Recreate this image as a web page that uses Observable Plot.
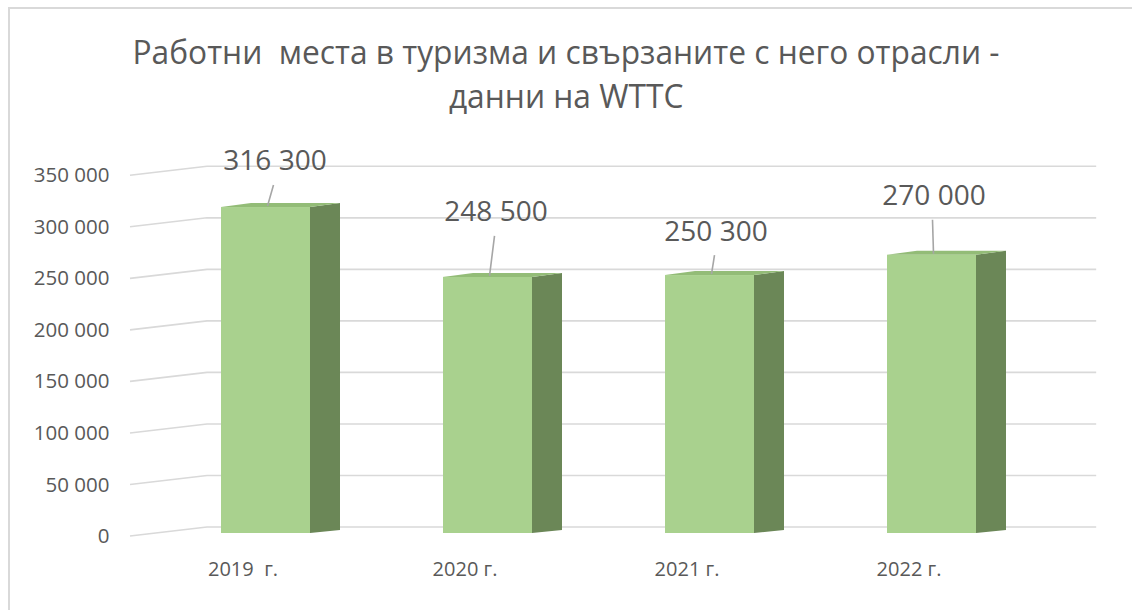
<!DOCTYPE html>
<html>
<head>
<meta charset="utf-8">
<script src="https://cdn.jsdelivr.net/npm/d3@7"></script>
<script src="https://cdn.jsdelivr.net/npm/@observablehq/plot@0.6"></script>
<style>
  html, body { margin: 0; padding: 0; background: #fff; }
  #wrap { position: relative; width: 1132px; height: 610px; overflow: hidden; font-family: "Open Sans", "Noto Sans", sans-serif; color: #595959; }
  #border { position: absolute; left: 8px; top: 7px; width: 1200px; height: 700px; border-left: 2px solid #d9d9d9; border-top: 2px solid #d9d9d9; pointer-events: none; }
  #title { height: 130px; box-sizing: border-box; padding-top: 29px; text-align: center; font-size: 33.6px; line-height: 44px; font-weight: 400; }
  #title div { white-space: nowrap; }
  #title span { display: inline-block; transform-origin: 50% 50%; white-space: pre; }
  #chart svg { display: block; }
</style>
</head>
<body>
<div id="wrap">
  <div id="title">
    <div><span id="t1">Работни  места в туризма и свързаните с него отрасли -</span></div>
    <div><span id="t2">данни на WTTC</span></div>
  </div>
  <div id="chart"></div>
  <div id="border"></div>
</div>
<script>
// ---- data ----
const years = ["2019", "2020", "2021", "2022"];
const yearLabels = ["2019 \u00a0г.", "2020 г.", "2021 г.", "2022 г."];
const jobs = [316300, 248500, 250300, 270000];
const valueLabels = ["316 300", "248 500", "250 300", "270 000"];
const yTicks = [0, 50000, 100000, 150000, 200000, 250000, 300000, 350000];
const yTickLabels = ["0", "50 000", "100 000", "150 000", "200 000", "250 000", "300 000", "350 000"];

const data = years.map((year, i) => ({year, value: jobs[i], text: valueLabels[i]}));

// ---- styling / layout ----
const FRONT = "#a9d18e", SIDE = "#6b8757", TOP = "#93bc77", GRID = "#d9d9d9", TEXT = "#595959", LEADER = "#a6a6a6";
const DEPTH_X = 30, DEPTH_Y = -4;
const labelLift = [46, 65, 44, 59];   // label centre above bar top (px)
const labelDx = [9, 8, 6, 2];         // label shift from bar face centre (px)

// fit the title to the reference width
const t1 = document.getElementById("t1"), t2 = document.getElementById("t2");
const k = 867 / t1.getBoundingClientRect().width;
t1.style.transform = `scaleX(${k})`;
t2.style.transform = `scaleX(${k})`;

const gridMark = Plot.ruleY(yTicks, {
  y: d => d,
  render(index, scales, values, dimensions) {
    const g = d3.create("svg:g");
    const L = dimensions.marginLeft;
    const R = dimensions.width - dimensions.marginRight;
    for (const i of index) {
      const yy = values.y ? values.y[i] : scales.y(yTicks[i]);
      const pts = [[L + 43.4, yy + 3], [L + 120.4, yy - 6], [R - 13, yy - 6]];
      g.append("path").attr("d", d3.line()(pts)).attr("fill", "none")
        .attr("stroke", GRID).attr("stroke-width", 1.6);
    }
    return g.node();
  }
});

const barMark = Plot.barY(data, {
  x: "year", y: "value", fill: FRONT,
  render(index, scales, values, dimensions, context, next) {
    const g = next(index, scales, values, dimensions, context);
    const sel = d3.select(g);
    const rects = Array.from(g.querySelectorAll("rect"));
    rects.forEach((r, k) => {
      const i = index[k];
      const x = +r.getAttribute("x"), y = +r.getAttribute("y");
      const w = +r.getAttribute("width"), h = +r.getAttribute("height");
      const y0 = y + h;
      // side face
      sel.append("path").attr("fill", SIDE)
        .attr("d", d3.line()([[x + w, y], [x + w + DEPTH_X, y + DEPTH_Y], [x + w + DEPTH_X, y0 + DEPTH_Y + 1], [x + w, y0]]) + "Z");
      // top face
      sel.append("path").attr("fill", TOP)
        .attr("d", d3.line()([[x, y], [x + DEPTH_X, y + DEPTH_Y], [x + w + DEPTH_X, y + DEPTH_Y], [x + w, y]]) + "Z");
      // leader line to the data label
      const cx = x + w / 2;
      sel.append("path").attr("fill", "none").attr("stroke", LEADER).attr("stroke-width", 1.6)
        .attr("d", d3.line()([[cx + labelDx[i] - 1, y - labelLift[i] + 24], [cx + 2, y - 1]]));
    });
    return g;
  }
});

const labelMarks = data.map((d, i) => Plot.text([d], {
  x: "year", y: "value", text: "text",
  dx: labelDx[i], dy: -labelLift[i],
  fontSize: 28, fill: TEXT, textAnchor: "middle", lineAnchor: "middle"
}));

const chart = Plot.plot({
  width: 1132,
  height: 480,
  marginTop: 42.3,
  marginBottom: 77,
  marginLeft: 86.6,
  marginRight: 22.8,
  style: {fontFamily: "'Open Sans', 'Noto Sans', sans-serif", color: TEXT, background: "transparent", overflow: "visible"},
  x: {domain: years, padding: 0.6, label: null},
  y: {domain: [0, 350000], label: null},
  marks: [
    gridMark,
    barMark,
    labelMarks,
    Plot.axisY({
      ticks: yTicks, tickSize: 0, tickPadding: 0, dx: 22.4, dy: 3,
      fontSize: 20.5, fill: TEXT, label: null,
      tickFormat: d => yTickLabels[yTicks.indexOf(d)]
    }),
    Plot.axisX({
      tickSize: 0, tickPadding: 28, dx: -23,
      fontSize: 20, fill: TEXT, label: null,
      tickFormat: d => yearLabels[years.indexOf(d)]
    })
  ]
});
document.getElementById("chart").appendChild(chart);
</script>
</body>
</html>
